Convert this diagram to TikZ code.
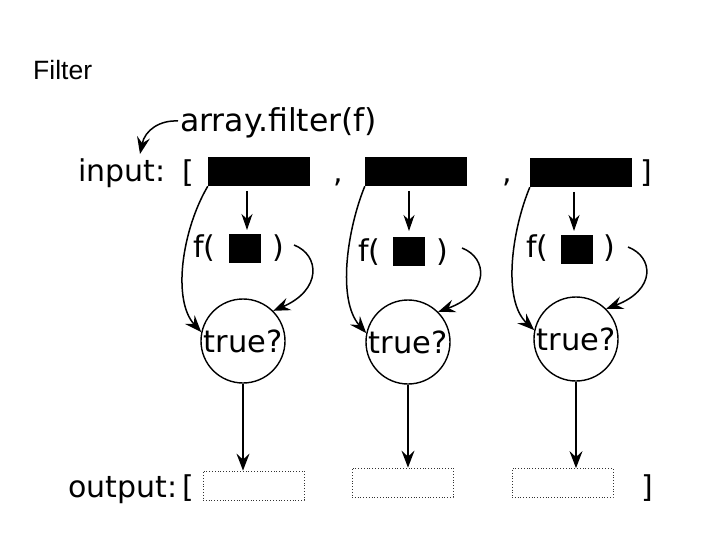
\documentclass[tikz,border=0pt]{standalone}
\usepackage{fontspec}
\setmainfont{DejaVu Sans}
\newfontfamily\titlefont{Liberation Sans}
\usetikzlibrary{arrows.meta}
\begin{document}
\begin{tikzpicture}[x=1pt,y=-1pt,
  txt/.style={inner sep=0pt,anchor=base west,font=\fontsize{30}{36}\selectfont},
  inbox/.style={fill=black,draw=none,minimum width=102pt,minimum height=29pt,inner sep=0pt},
  sq/.style={fill=black,draw=none,minimum width=32pt,minimum height=29pt,inner sep=0pt},
  outbox/.style={draw=black!80,dotted,line width=0.8pt,minimum width=101pt,minimum height=29pt,inner sep=0pt},
  test/.style={draw,circle,line width=1.4pt,minimum size=84pt,inner sep=0pt,font=\fontsize{30.5}{36}\selectfont},
  arr/.style={line width=1.5pt,-{Stealth[length=17pt,width=13pt,inset=6pt]}},
  sarr/.style={line width=1.2pt,-{Stealth[length=16pt,width=11pt,inset=5pt]}}
]
\useasboundingbox (0,0) rectangle (720,540);
\node[inner sep=0pt,anchor=base west,font=\titlefont\fontsize{26.5}{30}\selectfont] (title) at (33,80) {Filter};

\node[txt,font=\fontsize{31.5}{36}\selectfont] (af) at (180,132) {array.filter(f)};
\coordinate (afstart) at (178,121);
\coordinate (aftip) at (140,154);
\draw[arr] (afstart) .. controls (160,120) and (145,130) .. (aftip);

% input row
\node[txt] (inlabel) at (78,182) {input:};
\node[txt] (ilb) at (182,183) {[};
\node[inbox] (ib1) at (259,171.5) {};
\node[txt] (c1) at (333,183) {,};
\node[inbox] (ib2) at (416,171.5) {};
\node[txt] (c2) at (502,183) {,};
\node[inbox] (ib3) at (581,172.5) {};
\node[txt] (irb) at (640,183) {]};

% f( ) rows
\node[txt] (f1) at (193,257) {f(};
\node[sq] (s1) at (245,248.5) {};
\node[txt] (p1) at (272,257) {)};
\node[txt] (f2) at (358,261) {f(};
\node[sq] (s2) at (409,251) {};
\node[txt] (p2) at (436,261) {)};
\node[txt] (f3) at (526,257) {f(};
\node[sq] (s3) at (577,249) {};
\node[txt] (p3) at (603,257) {)};

% circles
\node[test] (t1) at (243,341) {true?};
\node[test] (t2) at (408,342) {true?};
\node[test] (t3) at (576,339) {true?};

% short arrows from input boxes to f(
\coordinate (a1s) at (247,191); \coordinate (a1e) at (247,230);
\coordinate (a2s) at (409,191); \coordinate (a2e) at (409,231);
\coordinate (a3s) at (574,192); \coordinate (a3e) at (574,231);
\draw[sarr] (a1s) -- (a1e);
\draw[sarr] (a2s) -- (a2e);
\draw[sarr] (a3s) -- (a3e);

% long curves from input boxes to circles
\draw[arr] (ib1.south west) .. controls (182,230) and (172,300) .. (t1.168);
\draw[arr] (ib2.south west) .. controls (347,230) and (337,300) .. (t2.168);
\draw[arr] (ib3.south west) .. controls (512,230) and (502,300) .. (t3.168);

% curves from ) to circles
\coordinate (r1) at (294,245);
\coordinate (r2) at (462,248);
\coordinate (r3) at (628,247);
\draw[arr] (r1) .. controls (320,255) and (322,290) .. (t1.45);
\draw[arr] (r2) .. controls (488,258) and (490,293) .. (t2.45);
\draw[arr] (r3) .. controls (654,257) and (656,290) .. (t3.45);

% output row
\node[txt] (outlabel) at (68,497) {output:};
\node[txt] (olb) at (182,497) {[};
\node[outbox] (ob1) at (253.5,485.5) {};
\node[outbox] (ob2) at (402.5,482.5) {};
\node[outbox] (ob3) at (562.5,483) {};
\node[txt] (orb) at (641,497) {]};

\draw[arr] (t1.south) -- (t1.south |- ob1.north);
\draw[arr] (t2.south) -- (t2.south |- ob2.north);
\draw[arr] (t3.south) -- (t3.south |- ob3.north);
\end{tikzpicture}
\end{document}
